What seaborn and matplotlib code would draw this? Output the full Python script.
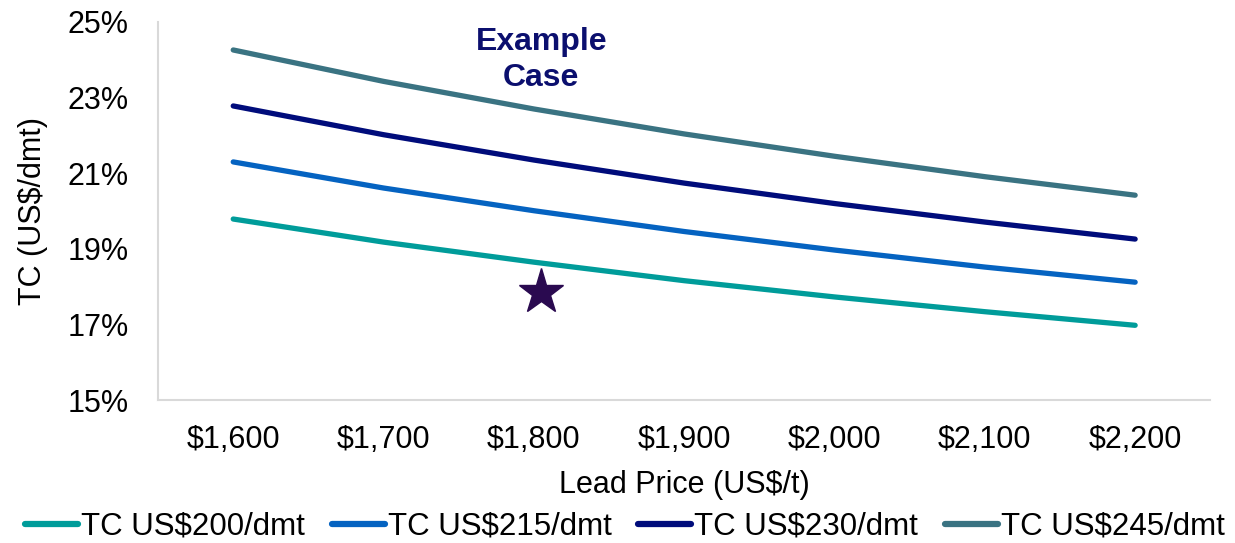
import matplotlib
matplotlib.use("Agg")
import matplotlib.pyplot as plt
import matplotlib.ticker as mticker
import seaborn as sns
import pandas as pd

# Lead price grid (US$/t)
lead_price = [1600, 1700, 1800, 1900, 2000, 2100, 2200]

# TC as a share of payable value (%) for each treatment charge
tc_200 = [19.79, 19.18, 18.65, 18.16, 17.73, 17.34, 16.98]
tc_215 = [21.30, 20.61, 20.01, 19.46, 18.97, 18.52, 18.12]
tc_230 = [22.78, 22.02, 21.35, 20.74, 20.20, 19.71, 19.26]
tc_245 = [24.26, 23.43, 22.70, 22.04, 21.45, 20.91, 20.42]

series_names = ["TC US$200/dmt", "TC US$215/dmt", "TC US$230/dmt", "TC US$245/dmt"]
series_colors = ["#009C9A", "#0563C1", "#000C7B", "#3A7382"]

# Highlighted example case
example_price = [1805]
example_tc = [17.86]

y_ticks = [15, 17, 19, 21, 23, 25]
x_ticks = lead_price

rows = []
for name, vals in zip(series_names, [tc_200, tc_215, tc_230, tc_245]):
    for p, v in zip(lead_price, vals):
        rows.append({"price": p, "tc": v, "series": name})
df = pd.DataFrame(rows)

sns.set_theme(style="white")
plt.rcParams["font.family"] = ["Liberation Sans", "DejaVu Sans"]
plt.rcParams["text.color"] = "black"

fig = plt.figure(figsize=(12.35, 5.43), dpi=100)
ax = fig.add_axes([0.128, 0.263, 0.852, 0.6965])

sns.lineplot(data=df, x="price", y="tc", hue="series", hue_order=series_names,
             palette=series_colors, linewidth=3.8, ax=ax, legend=True,
             solid_capstyle="round")

ax.plot(example_price, example_tc, marker="*", markersize=34, color="#2A0A50",
        linestyle="none", zorder=5)
ax.text(1805, 24.0, "Example\nCase", ha="center", va="center", fontsize=23,
        fontweight="bold", color="#0B0F6E", linespacing=1.25)

ax.set_xlim(1550, 2250)
ax.set_ylim(15, 25)
ax.set_xticks(x_ticks)
ax.set_yticks(y_ticks)
ax.xaxis.set_major_formatter(mticker.FuncFormatter(lambda v, _: f"${v:,.0f}"))
ax.yaxis.set_major_formatter(mticker.FuncFormatter(lambda v, _: f"{v:.0f}%"))
ax.tick_params(axis="both", length=0, labelsize=22, colors="black")
ax.tick_params(axis="y", pad=21)
ax.tick_params(axis="x", pad=18)

for side in ["top", "right"]:
    ax.spines[side].set_visible(False)
for side in ["left", "bottom"]:
    ax.spines[side].set_color("#D9D9D9")
    ax.spines[side].set_linewidth(1.5)

ax.set_xlabel("Lead Price (US$/t)", fontsize=22, color="black", labelpad=11)
ax.set_ylabel("TC (US$/dmt)", fontsize=22, color="black", labelpad=14)

handles, labels = ax.get_legend_handles_labels()
ax.get_legend().remove()
for h in handles:
    h.set_linewidth(4.5)
    h.set_solid_capstyle("round")
fig.legend(handles, labels, loc="center", bbox_to_anchor=(0.506, 0.03), ncol=4,
           frameon=False, fontsize=22.5, handlelength=1.7, handletextpad=0.1,
           columnspacing=0.85, borderaxespad=0, labelcolor="black")

fig.savefig("out.png", dpi=100)
